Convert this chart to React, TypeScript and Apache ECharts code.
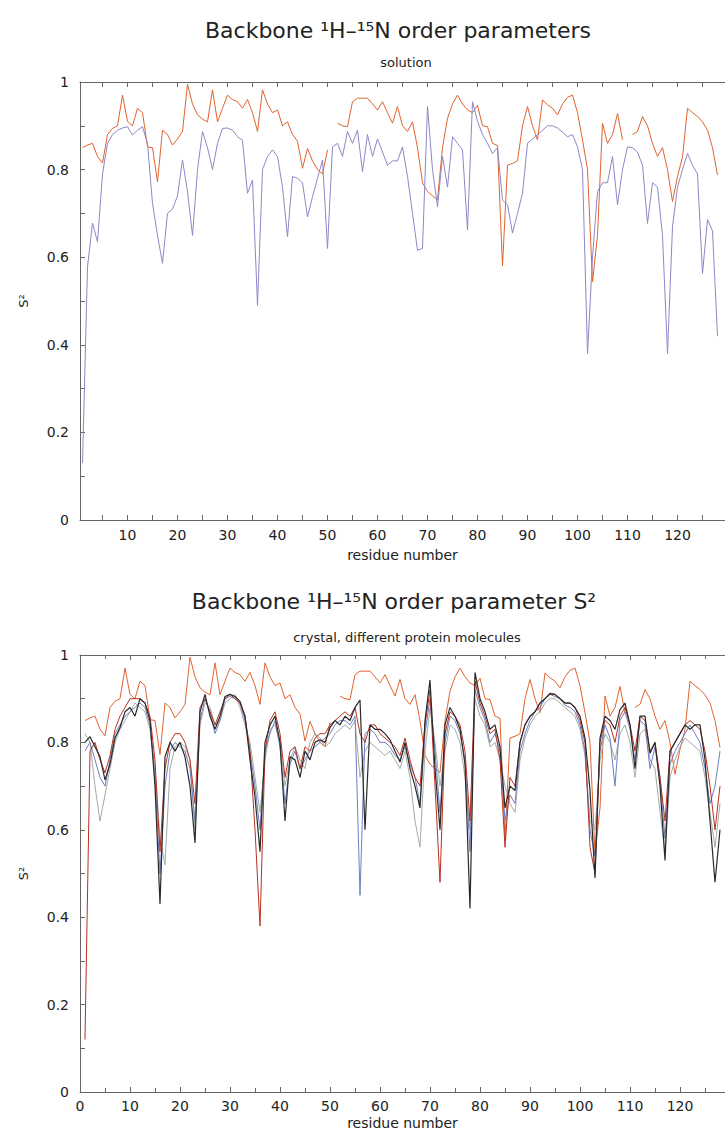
import React, { useEffect, useRef } from "react";
import * as echarts from "echarts";

// Residue numbering starts at 1 for every series
const FIRST_RESIDUE = 1;

// Solution S² (top panel, repeated in bottom panel)
const SOL_ORANGE: (number | null)[] = [
  0.85, 0.856, 0.86, 0.83, 0.815, 0.88, 0.894, 0.9, 0.97, 0.91,
  0.9, 0.94, 0.93, 0.852, 0.85, 0.772, 0.89, 0.88, 0.856, 0.87,
  0.887, 0.995, 0.95, 0.925, 0.915, 0.909, 0.982, 0.909, 0.94, 0.97,
  0.96, 0.955, 0.94, 0.96, 0.93, 0.887, 0.982, 0.95, 0.93, 0.936,
  0.9, 0.909, 0.88, 0.865, 0.803, 0.848, 0.82, 0.8, 0.79, 0.845,
  null, 0.906, 0.9, 0.898, 0.955, 0.963, 0.963, 0.963, 0.95, 0.936,
  0.955, 0.93, 0.906, 0.944, 0.9, 0.887, 0.909, 0.85, 0.77, 0.75,
  0.74, 0.731, 0.85, 0.917, 0.95, 0.97, 0.95, 0.936, 0.93, 0.947,
  0.9, 0.898, 0.86, 0.855, 0.58, 0.81, 0.814, 0.82, 0.9, 0.944,
  0.9, 0.868, 0.959, 0.948, 0.94, 0.925, 0.95, 0.965, 0.97, 0.93,
  0.868, 0.8, 0.544, 0.65, 0.906, 0.86, 0.88, 0.928, 0.868, null,
  0.88, 0.887, 0.921, 0.9, 0.86, 0.83, 0.85, 0.8, 0.727, 0.784,
  0.829, 0.94, 0.93, 0.921, 0.909, 0.89, 0.85, 0.788,
];

const SOL_BLUE: (number | null)[] = [
  0.13, 0.578, 0.678, 0.635, 0.79, 0.86, 0.88, 0.89, 0.895, 0.898,
  0.879, 0.89, 0.898, 0.86, 0.723, 0.65, 0.586, 0.7, 0.71, 0.74,
  0.822, 0.75, 0.65, 0.8, 0.887, 0.85, 0.8, 0.86, 0.894, 0.895,
  0.89, 0.875, 0.867, 0.746, 0.776, 0.49, 0.8, 0.83, 0.845, 0.83,
  0.76, 0.647, 0.784, 0.78, 0.77, 0.692, 0.738, 0.78, 0.822, 0.62,
  0.852, 0.86, 0.83, 0.887, 0.86, 0.89, 0.795, 0.88, 0.83, 0.87,
  0.84, 0.81, 0.82, 0.82, 0.852, 0.784, 0.7, 0.616, 0.62, 0.944,
  0.8, 0.715, 0.83, 0.76, 0.875, 0.86, 0.845, 0.662, 0.955, 0.91,
  0.88, 0.86, 0.837, 0.85, 0.73, 0.72, 0.655, 0.7, 0.746, 0.86,
  0.87, 0.88, 0.89, 0.9, 0.9, 0.895, 0.885, 0.875, 0.88, 0.852,
  0.8, 0.38, 0.6, 0.75, 0.77, 0.77, 0.83, 0.72, 0.8, 0.852,
  0.85, 0.84, 0.81, 0.677, 0.77, 0.76, 0.65, 0.38, 0.67, 0.76,
  0.8, 0.837, 0.81, 0.79, 0.563, 0.686, 0.66, 0.42,
];

// Crystal S², different protein molecules (bottom panel)
const CRY_BLACK: (number | null)[] = [
  0.8, 0.813, 0.79, 0.767, 0.714, 0.75, 0.81, 0.834, 0.87, 0.88,
  0.86, 0.9, 0.89, 0.85, 0.7, 0.43, 0.767, 0.8, 0.78, 0.8,
  0.767, 0.7, 0.57, 0.87, 0.91, 0.86, 0.83, 0.86, 0.905, 0.91,
  0.905, 0.894, 0.86, 0.76, 0.675, 0.55, 0.8, 0.84, 0.86, 0.8,
  0.62, 0.767, 0.76, 0.72, 0.78, 0.76, 0.8, 0.806, 0.8, 0.834,
  0.85, 0.84, 0.86, 0.85, 0.88, 0.897, 0.6, 0.84, 0.83, 0.83,
  0.82, 0.806, 0.78, 0.755, 0.8, 0.74, 0.7, 0.65, 0.85, 0.943,
  0.74, 0.6, 0.84, 0.88, 0.86, 0.83, 0.75, 0.42, 0.96, 0.9,
  0.87, 0.83, 0.84, 0.79, 0.65, 0.7, 0.69, 0.8, 0.84, 0.86,
  0.87, 0.89, 0.9, 0.912, 0.91, 0.9, 0.89, 0.89, 0.88, 0.86,
  0.81, 0.69, 0.49, 0.81, 0.86, 0.85, 0.83, 0.875, 0.89, 0.84,
  0.74, 0.86, 0.86, 0.775, 0.8, 0.7, 0.53, 0.78, 0.8, 0.82,
  0.84, 0.83, 0.84, 0.84, 0.76, 0.62, 0.48, 0.6,
];

const CRY_BLUE: (number | null)[] = [
  0.78, 0.8, 0.76, 0.72, 0.7, 0.76, 0.82, 0.84, 0.86, 0.87,
  0.88, 0.89, 0.88, 0.84, 0.72, 0.5, 0.7, 0.78, 0.8, 0.79,
  0.78, 0.74, 0.62, 0.85, 0.9, 0.87, 0.82, 0.85, 0.9, 0.905,
  0.9, 0.89, 0.85, 0.78, 0.7, 0.6, 0.78, 0.82, 0.85, 0.79,
  0.66, 0.75, 0.78, 0.74, 0.76, 0.78, 0.79, 0.8, 0.81, 0.82,
  0.84, 0.85, 0.85, 0.84, 0.86, 0.45, 0.82, 0.83, 0.82, 0.8,
  0.8, 0.79, 0.77, 0.76, 0.79, 0.75, 0.72, 0.66, 0.82, 0.9,
  0.78, 0.64, 0.8, 0.86, 0.85, 0.82, 0.76, 0.55, 0.92, 0.88,
  0.85, 0.8, 0.82, 0.78, 0.62, 0.68, 0.66, 0.78, 0.82, 0.85,
  0.87, 0.88, 0.9, 0.91, 0.905, 0.9, 0.885, 0.88, 0.87, 0.84,
  0.78, 0.6, 0.54, 0.78, 0.84, 0.81, 0.7, 0.85, 0.87, 0.83,
  0.76, 0.85, 0.84, 0.74, 0.79, 0.72, 0.58, 0.75, 0.78, 0.8,
  0.82, 0.84, 0.82, 0.8, 0.74, 0.66, 0.7, 0.78,
];

const CRY_GRAY: (number | null)[] = [
  0.82, 0.8, 0.7, 0.62, 0.68, 0.74, 0.8, 0.83, 0.85, 0.87,
  0.89, 0.88, 0.87, 0.83, 0.74, 0.58, 0.52, 0.74, 0.79, 0.8,
  0.79, 0.76, 0.6, 0.84, 0.89, 0.88, 0.84, 0.85, 0.89, 0.9,
  0.91, 0.88, 0.84, 0.8, 0.72, 0.64, 0.76, 0.83, 0.84, 0.8,
  0.7, 0.76, 0.79, 0.76, 0.74, 0.8, 0.82, 0.81, 0.79, 0.8,
  0.82, 0.83, 0.84, 0.83, 0.85, 0.72, 0.78, 0.8, 0.79, 0.78,
  0.77, 0.78, 0.76, 0.74, 0.78, 0.72, 0.62, 0.56, 0.78, 0.88,
  0.8, 0.7, 0.78, 0.84, 0.83, 0.8, 0.72, 0.6, 0.9, 0.86,
  0.84, 0.79, 0.8, 0.76, 0.7, 0.66, 0.64, 0.76, 0.81, 0.84,
  0.86, 0.87, 0.89, 0.9, 0.9, 0.89, 0.88, 0.87, 0.86, 0.83,
  0.77, 0.62, 0.6, 0.76, 0.82, 0.8, 0.76, 0.82, 0.84, 0.8,
  0.72, 0.82, 0.83, 0.76, 0.74, 0.64, 0.55, 0.72, 0.76, 0.79,
  0.81, 0.8, 0.79, 0.78, 0.72, 0.64, 0.56, 0.66,
];

const CRY_RED: (number | null)[] = [
  0.12, 0.78, 0.8, 0.76, 0.73, 0.77, 0.83, 0.86, 0.88, 0.9,
  0.9, 0.9, 0.89, 0.86, 0.76, 0.55, 0.74, 0.8, 0.82, 0.82,
  0.8, 0.76, 0.66, 0.88, 0.9, 0.87, 0.84, 0.87, 0.9, 0.91,
  0.9, 0.89, 0.86, 0.78, 0.6, 0.38, 0.78, 0.85, 0.87, 0.82,
  0.72, 0.78, 0.79, 0.74, 0.79, 0.78, 0.81, 0.82, 0.82, 0.84,
  0.85, 0.86, 0.87, 0.86, 0.88, 0.82, 0.8, 0.84, 0.84, 0.82,
  0.81, 0.8, 0.79, 0.77, 0.81, 0.76, 0.72, 0.7, 0.84, 0.92,
  0.7, 0.48, 0.82, 0.87, 0.86, 0.84, 0.78, 0.62, 0.94, 0.89,
  0.86, 0.82, 0.83, 0.76, 0.56, 0.72, 0.7, 0.8, 0.84, 0.86,
  0.87, 0.89, 0.9, 0.91, 0.91, 0.9, 0.89, 0.89, 0.88, 0.85,
  0.8, 0.56, 0.5, 0.8, 0.85, 0.84, 0.8, 0.86, 0.88, 0.84,
  0.78, 0.86, 0.85, 0.78, 0.8, 0.72, 0.62, 0.78, 0.8, 0.82,
  0.84, 0.85, 0.84, 0.83, 0.78, 0.7, 0.6, 0.7,
];

const X_LABELS_TOP = [10, 20, 30, 40, 50, 60, 70, 80, 90, 100, 110, 120];
const X_TICKS_TOP = [5, 10, 15, 20, 25, 30, 35, 40, 45, 50, 55, 60, 65, 70, 75, 80, 85, 90, 95, 100, 105, 110, 115, 120, 125];

const TITLE_TOP = "Backbone ¹H–¹⁵N order parameters";
const SUB_TOP = "solution";
const TITLE_BOTTOM = "Backbone ¹H–¹⁵N order parameter S²";
const SUB_BOTTOM = "crystal, different protein molecules";
const X_NAME = "residue number";
const Y_NAME = "S²";

const FONT = "DejaVu Sans";
const AXIS_COLOR = "#666";
const TEXT_COLOR = "#222";

const toPairs = (vals: (number | null)[]) =>
  vals.map((v, i) => [i + FIRST_RESIDUE, v === null ? "-" : v]);

export default function App() {
  const ref = useRef<HTMLDivElement>(null);

  useEffect(() => {
    if (!ref.current) return;
    const chart = echarts.init(ref.current, null, { renderer: "svg" });

    const lineStyle = { color: AXIS_COLOR, width: 1 };
    const labelStyle = { fontFamily: FONT, fontSize: 14, color: TEXT_COLOR };

    const yAxis = (gridIndex: number) => ({
      gridIndex,
      type: "value",
      min: 0,
      max: 1,
      interval: 0.2,
      axisLine: { show: true, lineStyle },
      axisTick: { show: true, inside: true, length: 5, lineStyle },
      minorTick: { show: true, splitNumber: 2, length: 5, lineStyle },
      axisLabel: { ...labelStyle, margin: 11 },
      splitLine: { show: false },
      name: Y_NAME,
      nameLocation: "middle",
      nameGap: 50,
      nameTextStyle: { fontFamily: FONT, fontSize: 13, color: TEXT_COLOR },
    });

    const line = (
      name: string,
      vals: (number | null)[],
      color: string,
      xAxisIndex: number,
      yAxisIndex: number,
      width = 1
    ) => ({
      name,
      type: "line",
      xAxisIndex,
      yAxisIndex,
      data: toPairs(vals),
      showSymbol: false,
      symbol: "none",
      connectNulls: false,
      lineStyle: { color, width },
      itemStyle: { color },
      z: 3,
    });

    chart.setOption({
      animation: false,
      backgroundColor: "#fff",
      graphic: [
        {
          type: "text",
          x: 398,
          y: 30,
          style: {
            text: TITLE_TOP,
            fontFamily: FONT,
            fontSize: 22,
            fill: TEXT_COLOR,
            align: "center",
            verticalAlign: "middle",
          },
        },
        {
          type: "text",
          x: 406,
          y: 62,
          style: {
            text: SUB_TOP,
            fontFamily: FONT,
            fontSize: 13,
            fill: TEXT_COLOR,
            align: "center",
            verticalAlign: "middle",
          },
        },
        {
          type: "text",
          x: 394,
          y: 601,
          style: {
            text: TITLE_BOTTOM,
            fontFamily: FONT,
            fontSize: 22,
            fill: TEXT_COLOR,
            align: "center",
            verticalAlign: "middle",
          },
        },
        {
          type: "text",
          x: 407,
          y: 637,
          style: {
            text: SUB_BOTTOM,
            fontFamily: FONT,
            fontSize: 13,
            fill: TEXT_COLOR,
            align: "center",
            verticalAlign: "middle",
          },
        },
      ],
      grid: [
        { left: 80, top: 82, width: 655, height: 438 },
        { left: 80, top: 655, width: 655, height: 437 },
      ],
      xAxis: [
        {
          gridIndex: 0,
          type: "value",
          position: "bottom",
          min: 0.5,
          max: 129.5,
          axisLine: { show: true, onZero: false, lineStyle },
          axisTick: { show: true, inside: true, length: 5, lineStyle, customValues: X_TICKS_TOP },
          axisLabel: { ...labelStyle, margin: 8, customValues: X_LABELS_TOP },
          splitLine: { show: false },
          name: X_NAME,
          nameLocation: "middle",
          nameGap: 28,
          nameTextStyle: { fontFamily: FONT, fontSize: 14, color: TEXT_COLOR },
        },
        {
          gridIndex: 0,
          type: "value",
          position: "top",
          min: 0.5,
          max: 129.5,
          axisLine: { show: true, onZero: false, lineStyle },
          axisTick: { show: true, inside: true, length: 5, lineStyle, customValues: X_TICKS_TOP },
          axisLabel: { show: false },
          splitLine: { show: false },
        },
        {
          gridIndex: 1,
          type: "value",
          position: "bottom",
          min: 0,
          max: 129,
          interval: 10,
          axisLine: { show: true, onZero: false, lineStyle },
          axisTick: { show: true, inside: true, length: 5, lineStyle },
          minorTick: { show: true, splitNumber: 2, length: 4, lineStyle },
          axisLabel: { ...labelStyle, margin: 7, showMaxLabel: false },
          splitLine: { show: false },
          name: X_NAME,
          nameLocation: "middle",
          nameGap: 24,
          nameTextStyle: { fontFamily: FONT, fontSize: 14, color: TEXT_COLOR },
        },
        {
          gridIndex: 1,
          type: "value",
          position: "top",
          min: 0,
          max: 129,
          interval: 10,
          axisLine: { show: true, onZero: false, lineStyle },
          axisTick: { show: true, inside: true, length: 5, lineStyle },
          minorTick: { show: true, splitNumber: 2, length: 4, lineStyle },
          axisLabel: { show: false },
          splitLine: { show: false },
        },
      ],
      yAxis: [yAxis(0), yAxis(1)],
      series: [
        line("solution A", SOL_ORANGE, "#e0622e", 0, 0),
        line("solution B", SOL_BLUE, "#8e86c6", 0, 0),
        line("solution A (crystal panel)", SOL_ORANGE, "#e0622e", 2, 1),
        line("crystal gray", CRY_GRAY, "#a3aca6", 2, 1),
        line("crystal blue", CRY_BLUE, "#6f7ec2", 2, 1),
        line("crystal red", CRY_RED, "#b8321e", 2, 1),
        line("crystal black", CRY_BLACK, "#2a2a2a", 2, 1, 1.2),
      ],
    });

    return () => chart.dispose();
  }, []);

  return (
    <div
      ref={ref}
      style={{ position: "absolute", left: 0, top: 0, width: 725, height: 1133, overflow: "hidden" }}
    />
  );
}
